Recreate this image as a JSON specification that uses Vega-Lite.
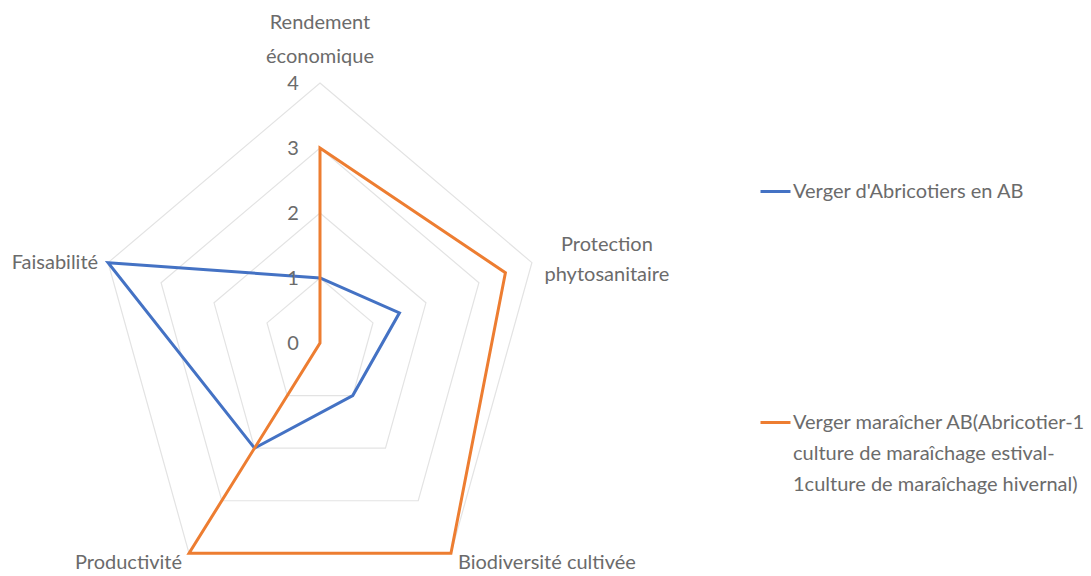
{
  "$schema": "https://vega.github.io/schema/vega-lite/v6.json",
  "width": 1091,
  "height": 576,
  "autosize": {"type": "none"},
  "padding": 0,
  "background": "white",
  "config": {"view": {"stroke": null}, "font": "Lato"},
  "datasets": {
    "series": [
      {"series": "Verger d'Abricotiers en AB", "axis": "Rendement économique", "k": 0, "value": 1},
      {"series": "Verger d'Abricotiers en AB", "axis": "Protection phytosanitaire", "k": 1, "value": 1.5},
      {"series": "Verger d'Abricotiers en AB", "axis": "Biodiversité cultivée", "k": 2, "value": 1},
      {"series": "Verger d'Abricotiers en AB", "axis": "Productivité", "k": 3, "value": 2},
      {"series": "Verger d'Abricotiers en AB", "axis": "Faisabilité", "k": 4, "value": 4},
      {"series": "Verger maraîcher AB(Abricotier-1 culture de maraîchage estival-1culture de maraîchage hivernal)", "axis": "Rendement économique", "k": 0, "value": 3},
      {"series": "Verger maraîcher AB(Abricotier-1 culture de maraîchage estival-1culture de maraîchage hivernal)", "axis": "Protection phytosanitaire", "k": 1, "value": 3.5},
      {"series": "Verger maraîcher AB(Abricotier-1 culture de maraîchage estival-1culture de maraîchage hivernal)", "axis": "Biodiversité cultivée", "k": 2, "value": 4},
      {"series": "Verger maraîcher AB(Abricotier-1 culture de maraîchage estival-1culture de maraîchage hivernal)", "axis": "Productivité", "k": 3, "value": 4},
      {"series": "Verger maraîcher AB(Abricotier-1 culture de maraîchage estival-1culture de maraîchage hivernal)", "axis": "Faisabilité", "k": 4, "value": 0}
    ],
    "rings": [
      {"level": 1, "k": 0}, {"level": 1, "k": 1}, {"level": 1, "k": 2}, {"level": 1, "k": 3}, {"level": 1, "k": 4},
      {"level": 2, "k": 0}, {"level": 2, "k": 1}, {"level": 2, "k": 2}, {"level": 2, "k": 3}, {"level": 2, "k": 4},
      {"level": 3, "k": 0}, {"level": 3, "k": 1}, {"level": 3, "k": 2}, {"level": 3, "k": 3}, {"level": 3, "k": 4},
      {"level": 4, "k": 0}, {"level": 4, "k": 1}, {"level": 4, "k": 2}, {"level": 4, "k": 3}, {"level": 4, "k": 4}
    ],
    "ticks": [{"level": 0}, {"level": 1}, {"level": 2}, {"level": 3}, {"level": 4}],
    "axes": [
      {"axis": "Rendement économique", "label": "Rendement\néconomique", "k": 0, "level": 4},
      {"axis": "Protection phytosanitaire", "label": "Protection\nphytosanitaire", "k": 1, "level": 4},
      {"axis": "Biodiversité cultivée", "label": "Biodiversité cultivée", "k": 2, "level": 4},
      {"axis": "Productivité", "label": "Productivité", "k": 3, "level": 4},
      {"axis": "Faisabilité", "label": "Faisabilité", "k": 4, "level": 4}
    ]
  },
  "layer": [
    {
      "data": {"name": "rings"},
      "transform": [
        {"calculate": "PI/2 - datum.k*2*PI/5", "as": "a"},
        {"calculate": "datum.level*cos(datum.a)", "as": "x"},
        {"calculate": "datum.level*sin(datum.a)", "as": "y"}
      ],
      "mark": {"type": "line", "interpolate": "linear-closed", "stroke": "#e3e3e3", "strokeWidth": 1.2},
      "encoding": {
        "x": {"field": "x", "type": "quantitative", "scale": {"domain": [-5.745, 13.842], "nice": false, "zero": false}, "axis": null},
        "y": {"field": "y", "type": "quantitative", "scale": {"domain": [-3.585, 5.277], "nice": false, "zero": false}, "axis": null},
        "detail": {"field": "level", "type": "nominal"},
        "order": {"field": "k", "type": "quantitative"}
      }
    },
    {
      "data": {"name": "series"},
      "transform": [
        {"calculate": "PI/2 - datum.k*2*PI/5", "as": "a"},
        {"calculate": "datum.value*cos(datum.a)", "as": "x"},
        {"calculate": "datum.value*sin(datum.a)", "as": "y"}
      ],
      "mark": {"type": "line", "interpolate": "linear-closed", "strokeWidth": 3},
      "encoding": {
        "x": {"field": "x", "type": "quantitative", "axis": null},
        "y": {"field": "y", "type": "quantitative", "axis": null},
        "order": {"field": "k", "type": "quantitative"},
        "color": {
          "field": "series",
          "type": "nominal",
          "scale": {
            "domain": ["Verger d'Abricotiers en AB", "Verger maraîcher AB(Abricotier-1 culture de maraîchage estival-1culture de maraîchage hivernal)"],
            "range": ["#4472C4", "#ED7D31"]
          },
          "legend": {
            "title": null,
            "orient": "none",
            "legendX": 759,
            "legendY": 175,
            "padding": 0,
            "symbolType": "stroke",
            "symbolSize": 900,
            "symbolStrokeWidth": 3,
            "labelFont": "Lato",
            "labelFontSize": 20,
            "labelColor": "#6b6b6b",
            "labelOffset": 1,
            "labelLimit": 500,
            "rowPadding": 204,
            "labelExpr": "indexof(datum.label, 'estival') >= 0 ? ['Verger maraîcher AB(Abricotier-1', 'culture de maraîchage estival-', '1culture de maraîchage hivernal)'] : datum.label",
            "encode": {"labels": {"update": {"lineHeight": {"value": 31}}}}
          }
        }
      }
    },
    {
      "data": {"name": "ticks"},
      "mark": {"type": "text", "font": "Lato", "fontSize": 20, "color": "#6b6b6b", "align": "center", "baseline": "middle", "dx": -27, "dy": 1},
      "encoding": {
        "x": {"datum": 0, "type": "quantitative"},
        "y": {"field": "level", "type": "quantitative"},
        "text": {"field": "level", "type": "quantitative"}
      }
    },
    {
      "data": {"name": "axes"},
      "transform": [
        {"filter": "datum.k == 0"},
        {"calculate": "PI/2 - datum.k*2*PI/5", "as": "a"},
        {"calculate": "datum.level*cos(datum.a)", "as": "x"},
        {"calculate": "datum.level*sin(datum.a)", "as": "y"}
      ],
      "mark": {"type": "text", "font": "Lato", "fontSize": 20, "color": "#6b6b6b", "align": "center", "baseline": "middle", "lineBreak": "\n", "lineHeight": 34, "dy": -60},
      "encoding": {
        "x": {"field": "x", "type": "quantitative"},
        "y": {"field": "y", "type": "quantitative"},
        "text": {"field": "label"}
      }
    },
    {
      "data": {"name": "axes"},
      "transform": [
        {"filter": "datum.k == 1"},
        {"calculate": "PI/2 - datum.k*2*PI/5", "as": "a"},
        {"calculate": "datum.level*cos(datum.a)", "as": "x"},
        {"calculate": "datum.level*sin(datum.a)", "as": "y"}
      ],
      "mark": {"type": "text", "font": "Lato", "fontSize": 20, "color": "#6b6b6b", "align": "center", "baseline": "middle", "lineBreak": "\n", "lineHeight": 30, "dx": 75, "dy": -18},
      "encoding": {
        "x": {"field": "x", "type": "quantitative"},
        "y": {"field": "y", "type": "quantitative"},
        "text": {"field": "label"}
      }
    },
    {
      "data": {"name": "axes"},
      "transform": [
        {"filter": "datum.k == 2"},
        {"calculate": "PI/2 - datum.k*2*PI/5", "as": "a"},
        {"calculate": "datum.level*cos(datum.a)", "as": "x"},
        {"calculate": "datum.level*sin(datum.a)", "as": "y"}
      ],
      "mark": {"type": "text", "font": "Lato", "fontSize": 20, "color": "#6b6b6b", "align": "left", "baseline": "middle", "dx": 7, "dy": 10},
      "encoding": {
        "x": {"field": "x", "type": "quantitative"},
        "y": {"field": "y", "type": "quantitative"},
        "text": {"field": "label"}
      }
    },
    {
      "data": {"name": "axes"},
      "transform": [
        {"filter": "datum.k == 3"},
        {"calculate": "PI/2 - datum.k*2*PI/5", "as": "a"},
        {"calculate": "datum.level*cos(datum.a)", "as": "x"},
        {"calculate": "datum.level*sin(datum.a)", "as": "y"}
      ],
      "mark": {"type": "text", "font": "Lato", "fontSize": 20, "color": "#6b6b6b", "align": "right", "baseline": "middle", "dx": -7, "dy": 10},
      "encoding": {
        "x": {"field": "x", "type": "quantitative"},
        "y": {"field": "y", "type": "quantitative"},
        "text": {"field": "label"}
      }
    },
    {
      "data": {"name": "axes"},
      "transform": [
        {"filter": "datum.k == 4"},
        {"calculate": "PI/2 - datum.k*2*PI/5", "as": "a"},
        {"calculate": "datum.level*cos(datum.a)", "as": "x"},
        {"calculate": "datum.level*sin(datum.a)", "as": "y"}
      ],
      "mark": {"type": "text", "font": "Lato", "fontSize": 20, "color": "#6b6b6b", "align": "right", "baseline": "middle", "dx": -10, "dy": 0},
      "encoding": {
        "x": {"field": "x", "type": "quantitative"},
        "y": {"field": "y", "type": "quantitative"},
        "text": {"field": "label"}
      }
    }
  ]
}
